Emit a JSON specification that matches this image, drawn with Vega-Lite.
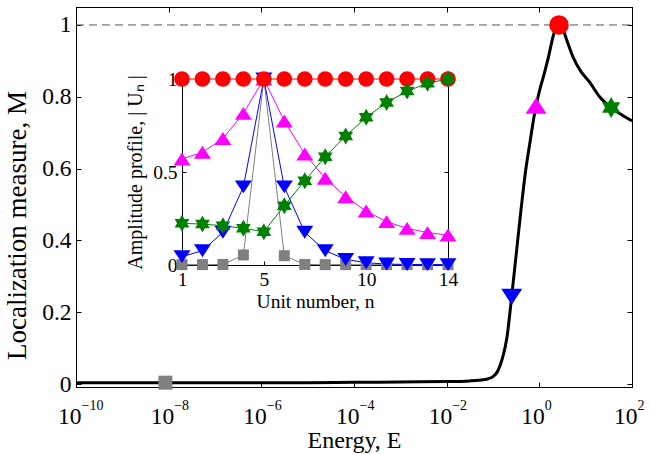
{
  "$schema": "https://vega.github.io/schema/vega-lite/v6.json",
  "width": 556,
  "height": 380,
  "autosize": {"type": "none"},
  "padding": {"left": 76, "top": 7, "right": 17, "bottom": 67},
  "background": "white",
  "config": {
    "view": {"stroke": "black", "strokeWidth": 1},
    "axis": {"grid": false, "domainColor": "black", "tickColor": "black", "labelColor": "black", "titleColor": "black", "labelFont": "Liberation Serif", "titleFont": "Liberation Serif", "titleFontWeight": "normal"}
  },
  "datasets": {
    "curve": [
      {"E": 1e-10, "M": 0.004}, {"E": 1e-9, "M": 0.004}, {"E": 1e-8, "M": 0.004}, {"E": 1e-7, "M": 0.004},
      {"E": 1e-6, "M": 0.004}, {"E": 1e-5, "M": 0.004}, {"E": 1e-4, "M": 0.005}, {"E": 1e-3, "M": 0.006},
      {"E": 0.01, "M": 0.007}, {"E": 0.0316, "M": 0.009}, {"E": 0.05, "M": 0.011}, {"E": 0.0794, "M": 0.015},
      {"E": 0.1, "M": 0.021}, {"E": 0.126, "M": 0.036}, {"E": 0.158, "M": 0.07}, {"E": 0.2, "M": 0.13},
      {"E": 0.251, "M": 0.24}, {"E": 0.316, "M": 0.36}, {"E": 0.398, "M": 0.48}, {"E": 0.501, "M": 0.59},
      {"E": 0.631, "M": 0.675}, {"E": 0.794, "M": 0.755}, {"E": 1.0, "M": 0.815}, {"E": 1.26, "M": 0.862},
      {"E": 1.58, "M": 0.912}, {"E": 2.0, "M": 0.97}, {"E": 2.24, "M": 0.99}, {"E": 2.66, "M": 1.0},
      {"E": 3.16, "M": 0.99}, {"E": 3.98, "M": 0.955}, {"E": 5.37, "M": 0.91}, {"E": 7.94, "M": 0.87},
      {"E": 12.3, "M": 0.84}, {"E": 20, "M": 0.8}, {"E": 35.5, "M": 0.77}, {"E": 63.1, "M": 0.748},
      {"E": 100, "M": 0.733}
    ],
    "marks": [
      {"E": 8.5e-9, "M": 0.004, "s": "sq"},
      {"E": 0.254, "M": 0.243, "s": "down"},
      {"E": 0.85, "M": 0.775, "s": "up"},
      {"E": 2.66, "M": 1.0, "s": "circ"},
      {"E": 35.5, "M": 0.77, "s": "star"}
    ],
    "inset": [
      {"s": "sq", "n": 1, "u": 0.002}, {"s": "sq", "n": 2, "u": 0.002}, {"s": "sq", "n": 3, "u": 0.003},
      {"s": "sq", "n": 4, "u": 0.054}, {"s": "sq", "n": 5, "u": 1.0}, {"s": "sq", "n": 6, "u": 0.05},
      {"s": "sq", "n": 7, "u": 0.003}, {"s": "sq", "n": 8, "u": 0.002}, {"s": "sq", "n": 9, "u": 0.002},
      {"s": "sq", "n": 10, "u": 0.002}, {"s": "sq", "n": 11, "u": 0.002}, {"s": "sq", "n": 12, "u": 0.002},
      {"s": "sq", "n": 13, "u": 0.002}, {"s": "sq", "n": 14, "u": 0.002},
      {"s": "down", "n": 1, "u": 0.045}, {"s": "down", "n": 2, "u": 0.077}, {"s": "down", "n": 3, "u": 0.176},
      {"s": "down", "n": 4, "u": 0.42}, {"s": "down", "n": 5, "u": 1.0}, {"s": "down", "n": 6, "u": 0.42},
      {"s": "down", "n": 7, "u": 0.176}, {"s": "down", "n": 8, "u": 0.077}, {"s": "down", "n": 9, "u": 0.03},
      {"s": "down", "n": 10, "u": 0.012}, {"s": "down", "n": 11, "u": 0.005}, {"s": "down", "n": 12, "u": 0.003},
      {"s": "down", "n": 13, "u": 0.002}, {"s": "down", "n": 14, "u": 0.002},
      {"s": "up", "n": 1, "u": 0.57}, {"s": "up", "n": 2, "u": 0.606}, {"s": "up", "n": 3, "u": 0.68},
      {"s": "up", "n": 4, "u": 0.815}, {"s": "up", "n": 5, "u": 1.0}, {"s": "up", "n": 6, "u": 0.774},
      {"s": "up", "n": 7, "u": 0.597}, {"s": "up", "n": 8, "u": 0.466}, {"s": "up", "n": 9, "u": 0.367},
      {"s": "up", "n": 10, "u": 0.29}, {"s": "up", "n": 11, "u": 0.233}, {"s": "up", "n": 12, "u": 0.197},
      {"s": "up", "n": 13, "u": 0.174}, {"s": "up", "n": 14, "u": 0.161},
      {"s": "circ", "n": 1, "u": 1.0}, {"s": "circ", "n": 2, "u": 1.0}, {"s": "circ", "n": 3, "u": 1.0},
      {"s": "circ", "n": 4, "u": 1.0}, {"s": "circ", "n": 5, "u": 1.0}, {"s": "circ", "n": 6, "u": 1.0},
      {"s": "circ", "n": 7, "u": 1.0}, {"s": "circ", "n": 8, "u": 1.0}, {"s": "circ", "n": 9, "u": 1.0},
      {"s": "circ", "n": 10, "u": 1.0}, {"s": "circ", "n": 11, "u": 1.0}, {"s": "circ", "n": 12, "u": 1.0},
      {"s": "circ", "n": 13, "u": 1.0}, {"s": "circ", "n": 14, "u": 1.0},
      {"s": "star", "n": 1, "u": 0.224}, {"s": "star", "n": 2, "u": 0.22}, {"s": "star", "n": 3, "u": 0.211},
      {"s": "star", "n": 4, "u": 0.197}, {"s": "star", "n": 5, "u": 0.179}, {"s": "star", "n": 6, "u": 0.319},
      {"s": "star", "n": 7, "u": 0.453}, {"s": "star", "n": 8, "u": 0.582}, {"s": "star", "n": 9, "u": 0.694},
      {"s": "star", "n": 10, "u": 0.794}, {"s": "star", "n": 11, "u": 0.873}, {"s": "star", "n": 12, "u": 0.935},
      {"s": "star", "n": 13, "u": 0.977}, {"s": "star", "n": 14, "u": 1.0}
    ]
  },
  "layer": [
    {
      "layer": [
        {
          "data": {"values": [{"y": 1, "x1": 1e-10, "x2": 100}]},
          "mark": {"type": "rule", "color": "#555555", "strokeDash": [8, 5], "strokeWidth": 1},
          "encoding": {
            "x": {"field": "x1", "type": "quantitative",
              "scale": {"type": "log", "domain": [1e-10, 100], "nice": false},
              "axis": {"orient": "top", "title": null, "values": [1e-10, 1e-8, 1e-6, 1e-4, 1e-2, 1, 100], "labels": false, "tickSize": -5}},
            "x2": {"field": "x2"},
            "y": {"field": "y", "type": "quantitative", "scale": {"domain": [-0.008, 1.05], "nice": false, "zero": false},
              "axis": {"orient": "right", "title": null, "values": [0, 0.2, 0.4, 0.6, 0.8, 1], "labels": false, "tickSize": -5}}
          }
        },
        {
          "data": {"name": "curve"},
          "mark": {"type": "line", "color": "black", "strokeWidth": 3, "interpolate": "monotone"},
          "encoding": {
            "x": {"field": "E", "type": "quantitative",
              "scale": {"type": "log", "domain": [1e-10, 100], "nice": false},
              "axis": {"orient": "bottom", "title": "Energy, E", "values": [1e-10, 1e-8, 1e-6, 1e-4, 1e-2, 1, 100],
                "labelExpr": "'10'", "labelAlign": "right", "labelOffset": 5, "labelBaseline": "top",
                "tickSize": -5, "labelPadding": 22, "labelFontSize": 23.5, "titleFontSize": 24, "titlePadding": 1, "domain": true, "labelFlush": false, "labelOverlap": false}},
            "y": {"field": "M", "type": "quantitative",
              "scale": {"domain": [-0.008, 1.05], "nice": false, "zero": false},
              "axis": {"orient": "left", "title": "Localization measure, M", "values": [0, 0.2, 0.4, 0.6, 0.8, 1], "format": "~g",
                "tickSize": -5, "labelPadding": 10, "labelFontSize": 23.5, "titleFontSize": 27, "titlePadding": 10, "titleY": 218}}
          }
        },
        {
          "data": {"name": "marks"},
          "mark": {"type": "point", "filled": true, "opacity": 1, "strokeWidth": 0},
          "encoding": {
            "x": {"field": "E", "type": "quantitative",
              "scale": {"type": "log", "domain": [1e-10, 100], "nice": false},
              "axis": {"orient": "bottom", "title": null, "values": [1e-10, 1e-8, 1e-6, 1e-4, 1e-2, 1, 100],
                "labelExpr": "replace(toString(round(log(datum.value)/LN10)),'-','−')", "labelAlign": "left", "labelOffset": 5, "labelBaseline": "top",
                "ticks": false, "domain": false, "labelPadding": 11, "labelFontSize": 14, "labelFlush": false, "labelOverlap": false}},
            "y": {"field": "M", "type": "quantitative",
              "scale": {"domain": [-0.008, 1.05], "nice": false, "zero": false}, "axis": null},
            "shape": {"field": "s", "type": "nominal", "legend": null,
              "scale": {"domain": ["sq", "down", "up", "circ", "star"],
                "range": ["square", "M-1,-0.76L0,0.76L1,-0.76Z", "M-1,0.76L0,-0.76L1,0.76Z", "circle", "M0,-1L0.2887,-0.5L0.866,-0.5L0.577,0L0.866,0.5L0.2887,0.5L0,1L-0.2887,0.5L-0.866,0.5L-0.577,0L-0.866,-0.5L-0.2887,-0.5Z"]}},
            "color": {"field": "s", "type": "nominal", "legend": null,
              "scale": {"domain": ["sq", "down", "up", "circ", "star"], "range": ["#808080", "#0000FF", "#FF00FF", "#FF0000", "#008000"]}},
            "size": {"field": "s", "type": "nominal", "legend": null,
              "scale": {"type": "ordinal", "domain": ["sq", "down", "up", "circ", "star"], "range": [196, 441, 441, 380, 441]}}
          }
        }
      ],
      "resolve": {"axis": {"x": "independent", "y": "independent"}}
    },
    {
      "data": {"name": "inset"},
      "layer": [
        {
          "mark": {"type": "line", "strokeWidth": 1},
          "encoding": {
            "x": {"field": "n", "type": "quantitative",
              "scale": {"domain": [1, 14], "range": [106, 372], "nice": false, "zero": false},
              "axis": {"orient": "bottom", "offset": -122, "title": "Unit number, n", "values": [1, 5, 10, 14],
                "tickSize": -4, "labelPadding": 9, "labelFontSize": 19.5, "titleFontSize": 19.5, "titlePadding": 4, "labelFlush": false}},
            "y": {"field": "u", "type": "quantitative",
              "scale": {"domain": [0, 1], "range": [258, 72], "nice": false, "zero": false},
              "axis": {"orient": "left", "offset": -106, "title": "Amplitude profile, | Uₙ |", "values": [0, 0.5, 1], "format": "~g",
                "tickSize": -4, "labelPadding": 9, "labelFontSize": 19.5, "titleFontSize": 20, "titlePadding": 7}},
            "color": {"field": "s", "type": "nominal", "legend": null,
              "scale": {"domain": ["sq", "down", "up", "circ", "star"], "range": ["#808080", "#0000FF", "#FF00FF", "#FF0000", "#008000"]}},
            "detail": {"field": "s"}
          }
        },
        {
          "mark": {"type": "point", "filled": true, "opacity": 1, "strokeWidth": 0},
          "encoding": {
            "x": {"field": "n", "type": "quantitative",
              "scale": {"domain": [1, 14], "range": [106, 372], "nice": false, "zero": false}, "axis": null},
            "y": {"field": "u", "type": "quantitative",
              "scale": {"domain": [0, 1], "range": [258, 72], "nice": false, "zero": false},
              "axis": {"orient": "right", "offset": -184, "title": null, "values": [0, 0.5, 1], "labels": false, "tickSize": -4}},
            "shape": {"field": "s", "type": "nominal", "legend": null,
              "scale": {"domain": ["sq", "down", "up", "circ", "star"],
                "range": ["square", "M-1,-0.76L0,0.76L1,-0.76Z", "M-1,0.76L0,-0.76L1,0.76Z", "circle", "M0,-1L0.2887,-0.5L0.866,-0.5L0.577,0L0.866,0.5L0.2887,0.5L0,1L-0.2887,0.5L-0.866,0.5L-0.577,0L-0.866,-0.5L-0.2887,-0.5Z"]}},
            "color": {"field": "s", "type": "nominal", "legend": null,
              "scale": {"domain": ["sq", "down", "up", "circ", "star"], "range": ["#808080", "#0000FF", "#FF00FF", "#FF0000", "#008000"]}},
            "size": {"field": "s", "type": "nominal", "legend": null,
              "scale": {"type": "ordinal", "domain": ["sq", "down", "up", "circ", "star"], "range": [121, 289, 289, 247, 289]}}
          }
        }
      ],
      "resolve": {"axis": {"x": "independent", "y": "independent"}}
    }
  ],
  "resolve": {"scale": {"x": "independent", "y": "independent", "color": "independent", "shape": "independent", "size": "independent"}}
}
